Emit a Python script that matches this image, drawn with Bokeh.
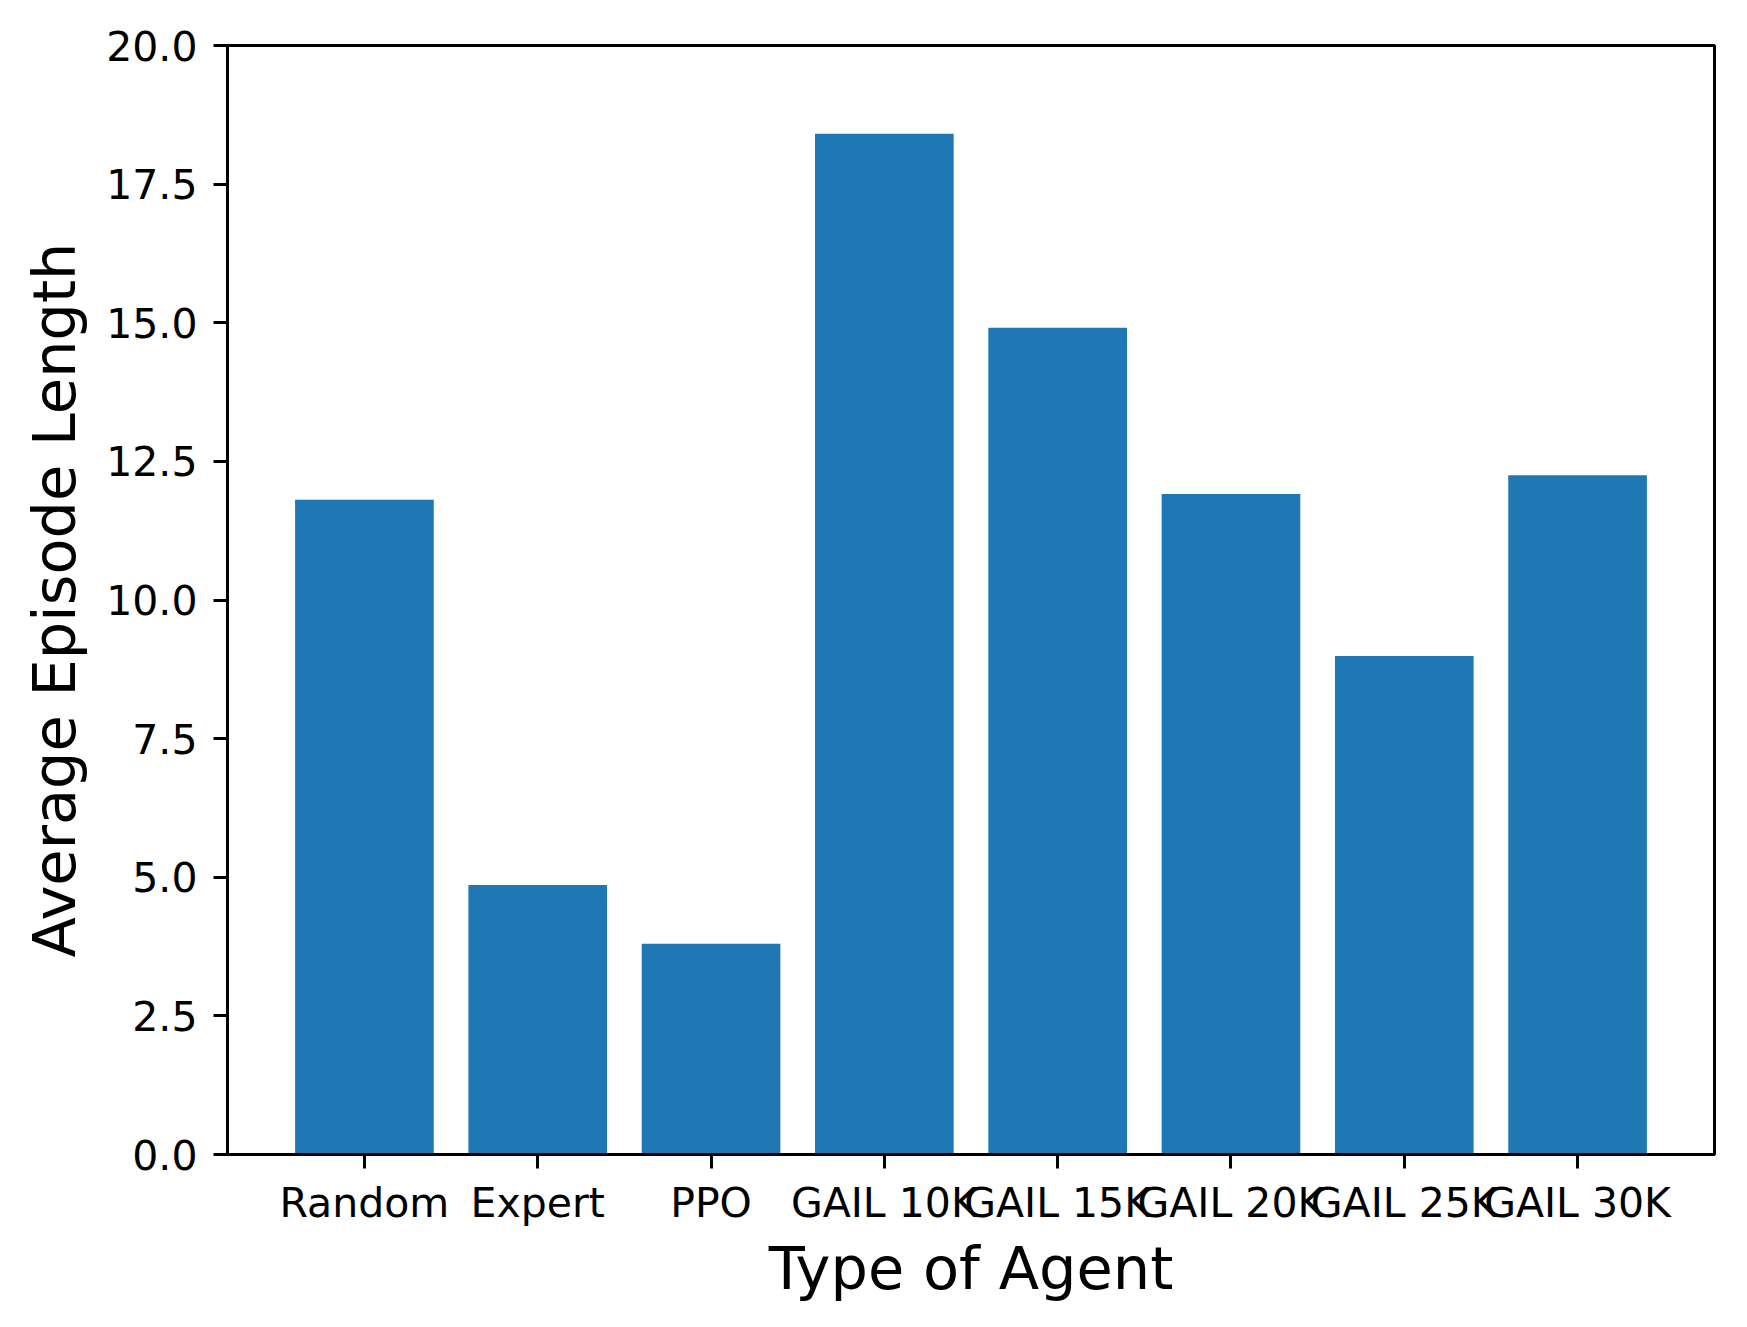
from bokeh.plotting import figure
from bokeh.models import Range1d, FixedTicker, PrintfTickFormatter, ColumnDataSource
from bokeh.embed import file_html
from bokeh.resources import INLINE

agents = ["Random", "Expert", "PPO", "GAIL 10K", "GAIL 15K", "GAIL 20K", "GAIL 25K", "GAIL 30K"]
lengths = [11.81, 4.86, 3.80, 18.41, 14.91, 11.91, 8.99, 12.25]
y_ticks = [0, 2.5, 5, 7.5, 10, 12.5, 15, 17.5, 20]

positions = list(range(len(agents)))
src = ColumnDataSource(data=dict(x=positions, top=lengths))

p = figure(width=1731, height=1311, output_backend="svg", toolbar_location=None,
           x_range=Range1d(-0.79, 7.79), y_range=Range1d(0, 20),
           min_border_left=227, min_border_right=17, min_border_top=45, min_border_bottom=157)

p.vbar(x="x", top="top", bottom=0, width=0.8, source=src, fill_color="#1f77b4", line_color=None)

p.xgrid.visible = False
p.ygrid.visible = False
p.outline_line_color = "black"
p.outline_line_width = 3
p.background_fill_color = "white"
p.border_fill_color = "white"

p.xaxis.ticker = FixedTicker(ticks=positions)
p.xaxis.major_label_overrides = {i: a for i, a in enumerate(agents)}
p.xaxis.minor_tick_line_color = None
p.yaxis.ticker = FixedTicker(ticks=y_ticks)
p.yaxis.formatter = PrintfTickFormatter(format="%.1f")
p.yaxis.minor_tick_line_color = None

for ax in (p.xaxis[0], p.yaxis[0]):
    ax.axis_line_width = 3
    ax.axis_line_color = "black"
    ax.major_tick_line_width = 3
    ax.major_tick_line_color = "black"
    ax.major_tick_in = 0
    ax.major_tick_out = 14
    ax.major_label_text_font = "DejaVu Sans"
    ax.major_label_text_font_size = "41px"
    ax.major_label_text_color = "black"
    ax.axis_label_text_font = "DejaVu Sans"
    ax.axis_label_text_font_size = "59px"
    ax.axis_label_text_font_style = "normal"
    ax.axis_label_text_color = "black"

p.xaxis.axis_label = "Type of Agent"
p.yaxis.axis_label = "Average Episode Length"
p.xaxis.major_label_standoff = 10
p.yaxis.major_label_standoff = 16
p.xaxis.axis_label_standoff = 4
p.yaxis.axis_label_standoff = 14

open("out.html", "w").write(file_html(p, INLINE))
